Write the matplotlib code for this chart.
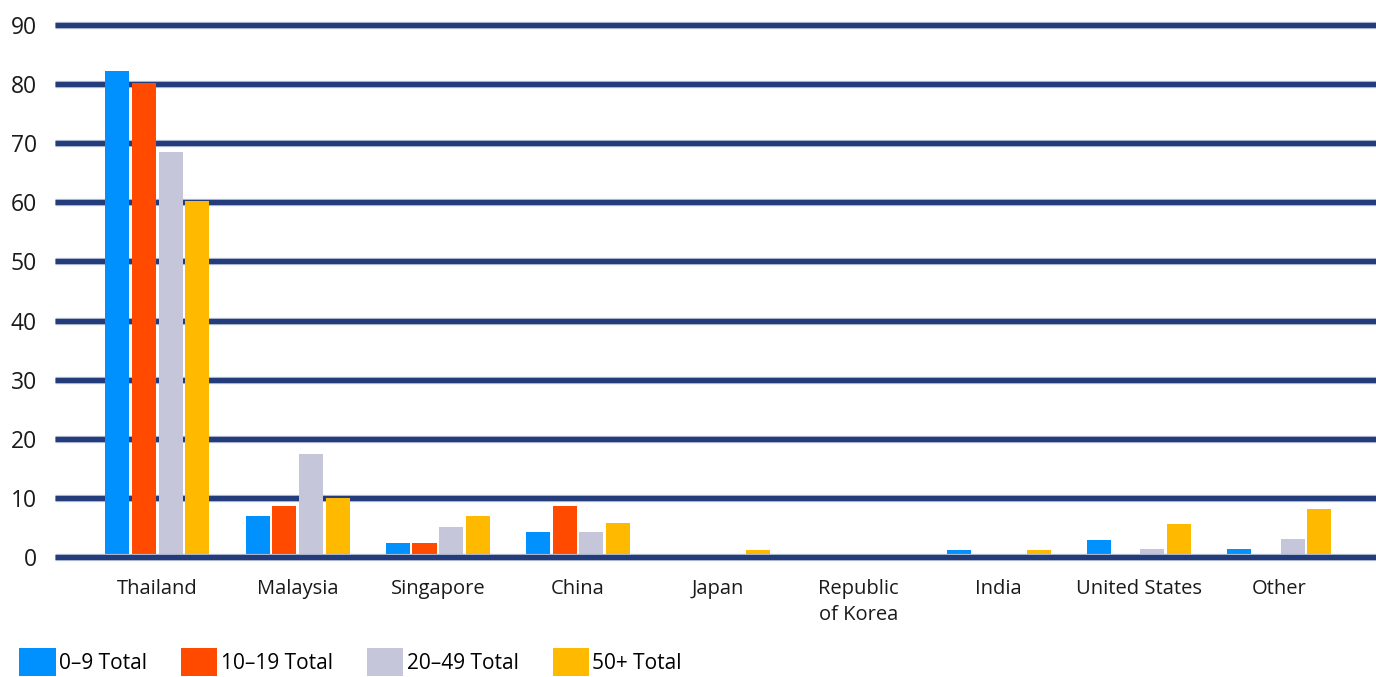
import numpy as np
import matplotlib.pyplot as plt
from matplotlib.patches import Patch

plt.rcParams['font.family'] = ['Open Sans', 'DejaVu Sans']

countries = ["Thailand", "Malaysia", "Singapore", "China", "Japan",
             "Republic\nof Korea", "India", "United States", "Other"]
series_names = ["0\u20139 Total", "10\u201319 Total", "20\u201349 Total", "50+ Total"]
total_0_9 = [82.2, 7.0, 2.4, 4.3, 0.0, 0.0, 1.2, 2.8, 1.4]
total_10_19 = [80.2, 8.7, 2.4, 8.7, 0.0, 0.0, 0.0, 0.0, 0.0]
total_20_49 = [68.5, 17.4, 5.0, 4.3, 0.0, 0.0, 0.0, 1.4, 3.0]
total_50_plus = [60.3, 10.0, 7.0, 5.7, 1.2, 0.0, 1.2, 5.6, 8.1]
yticks = [0, 10, 20, 30, 40, 50, 60, 70, 80, 90]

colors = ["#0091ff", "#ff4a00", "#c5c6d9", "#ffba00"]
navy = "#233c7b"

fig = plt.figure(figsize=(13.76, 6.77), dpi=100)
ax = fig.add_axes([55 / 1376, 120 / 677, 1 - 55 / 1376, 532 / 677])

x = np.arange(len(countries))
width = 0.172
step = 0.19
all_series = [total_0_9, total_10_19, total_20_49, total_50_plus]
for i, vals in enumerate(all_series):
    ax.bar(x + (i - 1.5) * step, vals, width, color=colors[i], zorder=2)

# thick horizontal grid lines
xmin, xmax = -0.73, 8.69
for yv in yticks:
    z = 3 if yv == 0 else 1
    ax.hlines(yv, xmin, xmax, color="#aab3cc", lw=5.2, zorder=z, clip_on=False)
    ax.hlines(yv, xmin, xmax, color=navy, lw=3.6, zorder=z, clip_on=False)

ax.set_xlim(xmin, xmax)
ax.set_ylim(0, 90)
ax.set_yticks(yticks)
ax.set_yticklabels([str(t) for t in yticks], fontsize=16.5, color="#1a1a1a")
ax.set_xticks(x)
ax.set_xticklabels(countries, fontsize=14.5, color="#1a1a1a", linespacing=1.4,
                   va="top")
ax.tick_params(axis="both", length=0)
ax.tick_params(axis="y", pad=13)
ax.tick_params(axis="x", pad=16)
for s in ax.spines.values():
    s.set_visible(False)

handles = [Patch(facecolor=c, edgecolor="none") for c in colors]
fig.legend(handles, series_names, loc="lower left",
           bbox_to_anchor=(18 / 1376, 0.0), ncol=4, frameon=False,
           fontsize=15, handlelength=1.75, handleheight=1.7,
           handletextpad=0.15, columnspacing=1.65, borderpad=0.05,
           borderaxespad=0.0)

fig.savefig("out.png", dpi=100)
